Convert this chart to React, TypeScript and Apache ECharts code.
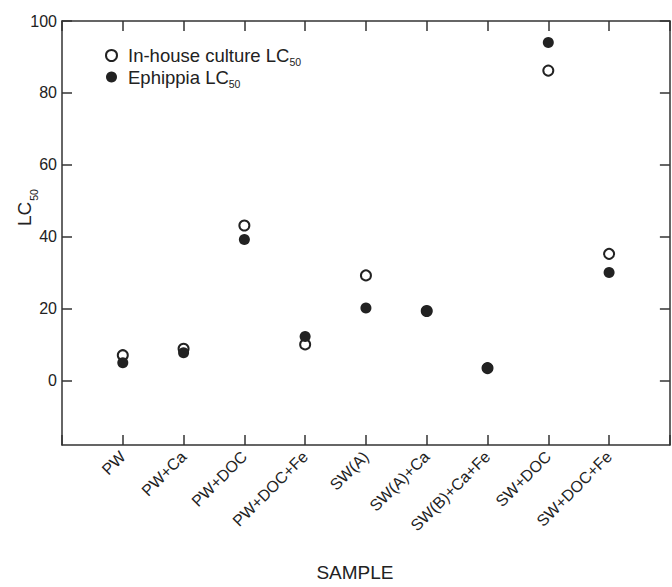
import React, { useEffect, useRef } from "react";
import * as echarts from "echarts";

const categories = [
  "PW",
  "PW+Ca",
  "PW+DOC",
  "PW+DOC+Fe",
  "SW(A)",
  "SW(A)+Ca",
  "SW(B)+Ca+Fe",
  "SW+DOC",
  "SW+DOC+Fe",
];
const inHouse = [7.0, 8.8, 43.1, 10.0, 29.2, 19.3, 3.4, 86.2, 35.2];
const ephippia = [4.9, 7.7, 39.2, 12.2, 20.1, 19.3, 3.4, 94.0, 30.0];
const yTicks = [0, 20, 40, 60, 80, 100];
const xPositions = [1, 2, 3, 4, 5, 6, 7, 8, 9];

const FONT = "Liberation Sans, Arial, Helvetica, sans-serif";
const INK = "#222";
const AXIS = "#333";

export default function App() {
  const ref = useRef<HTMLDivElement>(null);
  useEffect(() => {
    if (!ref.current) return;
    const chart = echarts.init(ref.current, undefined, { renderer: "svg" });
    const axisLine = { show: true, onZero: false, lineStyle: { color: AXIS, width: 1.5 } };
    const tick = { show: true, inside: true, length: 10, lineStyle: { color: AXIS, width: 1.5 } };
    const legendRich = {
      a: { fontSize: 18.5, fontFamily: FONT, color: INK, padding: [0, 0, 0, 6] },
      s: { fontSize: 10.5, fontFamily: FONT, color: INK, padding: [13, 0, 0, 0] },
    };
    chart.setOption({
      animation: false,
      grid: { left: 62, top: 21, right: -1, bottom: 138 },
      legend: {
        orient: "vertical",
        left: 105,
        top: 46,
        padding: 0,
        itemGap: 0,
        itemWidth: 11,
        itemHeight: 11,
        data: ["In-house culture", "Ephippia"],
        formatter: (name: string) => `{a|${name} LC}{s|50}`,
        textStyle: { rich: legendRich },
      },
      xAxis: [
        {
          type: "value",
          min: 0,
          max: 10,
          interval: 1,
          position: "bottom",
          splitLine: { show: false },
          axisLine,
          axisTick: tick,
          axisLabel: {
            rotate: 45,
            margin: 9,
            fontSize: 16,
            fontFamily: FONT,
            color: INK,
            formatter: (v: number) => categories[v - 1] ?? "",
          },
          name: "SAMPLE",
          nameLocation: "middle",
          nameGap: 118,
          nameTextStyle: { fontSize: 19, fontFamily: FONT, color: INK, padding: [0, 22, 0, 0] },
        },
        {
          type: "value",
          min: 0,
          max: 10,
          interval: 1,
          position: "top",
          splitLine: { show: false },
          axisLine,
          axisTick: tick,
          axisLabel: { show: false },
        },
      ],
      yAxis: [
        {
          type: "value",
          min: -18,
          max: 100,
          position: "left",
          splitLine: { show: false },
          axisLine,
          axisTick: { ...tick, customValues: yTicks },
          axisLabel: {
            customValues: yTicks,
            fontSize: 16,
            fontFamily: FONT,
            color: INK,
            margin: 5,
          },
        },
        {
          type: "value",
          min: -18,
          max: 100,
          position: "right",
          splitLine: { show: false },
          axisLine,
          axisTick: { ...tick, customValues: yTicks },
          axisLabel: { show: false },
        },
      ],
      graphic: [
        {
          type: "text",
          x: 10,
          y: 226,
          rotation: Math.PI / 2,
          style: {
            text: "{a|LC}{s|50}",
            rich: {
              a: { fontSize: 19, fontFamily: FONT, fill: INK },
              s: { fontSize: 10.5, fontFamily: FONT, fill: INK, padding: [18, 0, 0, 1] },
            },
          },
        },
      ],
      series: [
        {
          name: "In-house culture",
          type: "scatter",
          symbol: "circle",
          symbolSize: 10,
          itemStyle: { color: "#fff", borderColor: INK, borderWidth: 2, opacity: 1 },
          data: xPositions.map((x, i) => [x, inHouse[i]]),
          z: 2,
        },
        {
          name: "Ephippia",
          type: "scatter",
          symbol: "circle",
          symbolSize: 11,
          itemStyle: { color: INK, opacity: 1 },
          data: xPositions.map((x, i) => [x, ephippia[i]]),
          z: 3,
        },
      ],
    });
    return () => chart.dispose();
  }, []);
  return (
    <div
      ref={ref}
      style={{ position: "fixed", left: 0, top: 0, width: 672, height: 587, background: "#fff" }}
    />
  );
}
